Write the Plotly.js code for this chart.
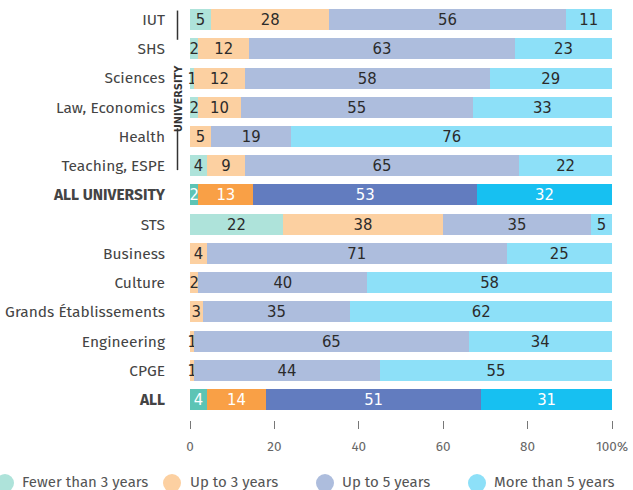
<!DOCTYPE html>
<html>
<head>
<meta charset="utf-8">
<script src="https://cdn.plot.ly/plotly-3.0.1.min.js"></script>
<style>html,body{margin:0;padding:0;background:#fff;}#chart{width:633px;height:490px;}</style>
</head>
<body>
<div id="chart"></div>
<script>
// ---- data ----
const categories = ["IUT", "SHS", "Sciences", "Law, Economics", "Health", "Teaching, ESPE",
  "ALL UNIVERSITY", "STS", "Business", "Culture", "Grands Établissements", "Engineering", "CPGE", "ALL"];
const totalRows = ["ALL UNIVERSITY", "ALL"];
const seriesNames = ["Fewer than 3 years", "Up to 3 years", "Up to 5 years", "More than 5 years"];
const fewerThan3 = [5, 2, 1, 2, 0, 4, 2, 22, 0, 0, 0, 0, 0, 4];
const upTo3 = [28, 12, 12, 10, 5, 9, 13, 38, 4, 2, 3, 1, 1, 14];
const upTo5 = [56, 63, 58, 55, 19, 65, 53, 35, 71, 40, 35, 65, 44, 51];
const moreThan5 = [11, 23, 29, 33, 76, 22, 32, 5, 25, 58, 62, 34, 55, 31];
const tickVals = [0, 20, 40, 60, 80, 100];
const tickLabels = ["0", "20", "40", "60", "80", "100%"];

// ---- styles ----
const lightColors = ["#aee3da", "#fcd0a1", "#adbddd", "#8de0f8"];
const darkColors = ["#5cc4b5", "#f9a046", "#627cbf", "#17c0f1"];
const numFont = "'Liberation Sans Narrow', 'DejaVu Sans Condensed', 'Roboto', sans-serif";
const labelFont = "'Fira Sans', 'Open Sans', 'Noto Sans', sans-serif";

const series = [fewerThan3, upTo3, upTo5, moreThan5];
const isTotal = categories.map(c => totalRows.includes(c));

const traces = series.map((vals, i) => ({
  type: "bar",
  orientation: "h",
  name: seriesNames[i],
  y: categories,
  x: vals,
  text: vals.map(v => v > 0 ? String(v) : ""),
  textposition: "inside",
  insidetextanchor: "middle",
  textangle: 0,
  constraintext: "none",
  cliponaxis: false,
  textfont: {family: numFont, size: 16.5, color: isTotal.map(t => t ? "#ffffff" : "#2b2b2b")},
  marker: {color: isTotal.map(t => t ? darkColors[i] : lightColors[i]), line: {width: 0}},
  width: 0.72,
  hoverinfo: "x+y+name",
  showlegend: false
}));

// plot geometry helpers (paper coordinates)
const plotL = 190, plotR = 612, plotT = 5.4, plotB = 420;
const px2x = p => (p - plotL) / (plotR - plotL);
const px2y = p => (plotB - p) / (plotB - plotT);

const legendCircleX = [5, 172, 325, 477];
const legendTextX = [20, 188, 340, 492];
const legendY = 482;

const shapes = [
  {type: "line", xref: "paper", yref: "y", x0: px2x(177.5), x1: px2x(177.5), y0: -0.31, y1: 0.69,
   line: {color: "#333", width: 1.5}},
  {type: "line", xref: "paper", yref: "y", x0: px2x(177.5), x1: px2x(177.5), y0: 3.72, y1: 5.15,
   line: {color: "#333", width: 1.5}}
];
const annotations = [
  {xref: "paper", yref: "y", x: px2x(178), y: 2.69, text: "<b>UNIVERSITY</b>", textangle: -90,
   showarrow: false, xanchor: "center", yanchor: "middle",
   font: {family: "'DejaVu Sans Condensed', 'Liberation Sans Narrow', sans-serif", size: 11, color: "#333"}}
];
seriesNames.forEach((n, i) => {
  shapes.push({type: "circle", xref: "paper", yref: "paper", xsizemode: "pixel", ysizemode: "pixel",
    xanchor: px2x(legendCircleX[i]), yanchor: px2y(legendY + 1), x0: -9, x1: 9, y0: -9, y1: 9,
    fillcolor: lightColors[i], line: {width: 0}});
  annotations.push({xref: "paper", yref: "paper", x: px2x(legendTextX[i]), y: px2y(legendY),
    xanchor: "left", yanchor: "middle", showarrow: false, text: n,
    font: {family: labelFont, size: 15, color: "#555"}});
});

const layout = {
  width: 633, height: 490,
  margin: {l: plotL, r: 633 - plotR, t: plotT, b: 490 - plotB},
  barmode: "stack",
  bargap: 0.28,
  paper_bgcolor: "#fff", plot_bgcolor: "#fff",
  showlegend: false,
  xaxis: {
    range: [0, 100], tickvals: tickVals, ticktext: tickLabels,
    showgrid: false, zeroline: false, showline: false,
    ticks: "outside", ticklen: 8, tickwidth: 1, tickcolor: "#777",
    ticklabelstandoff: 6,
    tickfont: {family: labelFont, size: 13.5, color: "#666"},
    fixedrange: true
  },
  yaxis: {
    type: "category", range: [13.7, -0.5], autorange: false,
    tickvals: categories,
    ticktext: categories.map((c, i) => isTotal[i] ? "<b>" + c + "</b>" : c),
    showgrid: false, zeroline: false, showline: false, ticks: "",
    ticklabelstandoff: 24,
    tickfont: {family: labelFont, size: 15.5, color: "#444"},
    fixedrange: true
  },
  shapes: shapes,
  annotations: annotations
};

Plotly.newPlot("chart", traces, layout, {displayModeBar: false, staticPlot: true});
</script>
</body>
</html>
